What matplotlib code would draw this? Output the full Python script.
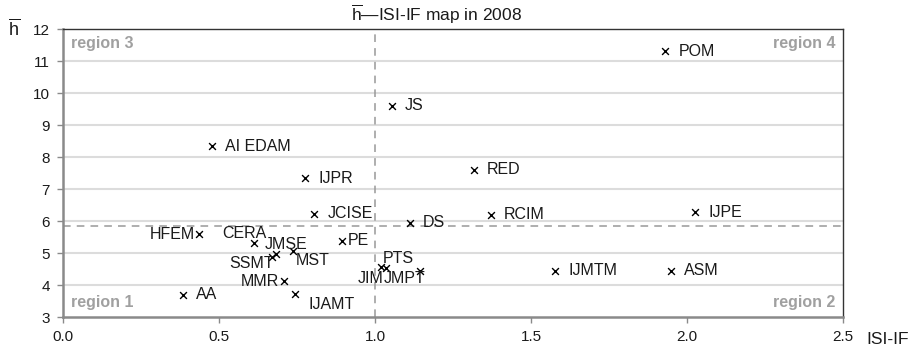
import matplotlib
matplotlib.use('Agg')
import matplotlib.pyplot as plt

plt.rcParams['font.family'] = ['Liberation Sans', 'DejaVu Sans']
plt.rcParams['mathtext.fontset'] = 'custom'
plt.rcParams['mathtext.rm'] = 'Liberation Sans'
plt.rcParams['mathtext.sf'] = 'Liberation Sans'

# journals: ISI impact factor vs mean h-index
journals = ['POM', 'JS', 'AI EDAM', 'IJPR', 'RED', 'JCISE', 'DS', 'RCIM', 'IJPE',
            'HFEM', 'CERA', 'JMSE', 'SSMT', 'MST', 'PE', 'MMR', 'IJAMT', 'AA',
            'PTS', 'JIM', 'JMPT', 'IJMTM', 'ASM']
isi_if = [1.93, 1.054, 0.478, 0.776, 1.317, 0.805, 1.112, 1.372, 2.026,
          0.436, 0.612, 0.683, 0.670, 0.737, 0.895, 0.707, 0.744, 0.385,
          1.019, 1.035, 1.144, 1.577, 1.949]
h_bar = [11.31, 9.6, 8.34, 7.34, 7.6, 6.23, 5.94, 6.2, 6.28,
         5.59, 5.31, 4.98, 4.88, 5.06, 5.38, 4.11, 3.73, 3.69,
         4.56, 4.52, 4.44, 4.44, 4.44]

if_split = 1.0
h_split = 5.85

# label placement (offset in points, horizontal alignment)
label_pos = {
    'HFEM': ((-3, 0), 'right'),
    'CERA': ((-7, 7), 'center'),
    'JMSE': ((7, 6.5), 'center'),
    'SSMT': ((1, -4.5), 'right'),
    'MST': ((2, -7), 'left'),
    'PE': ((4, 0), 'left'),
    'MMR': ((-3, 0), 'right'),
    'IJAMT': ((10, -7.5), 'left'),
    'PTS': ((1, 6.5), 'left'),
    'JIM': ((-1.5, -7.5), 'right'),
    'JMPT': ((-26, -5.5), 'left'),
}

fig = plt.figure(figsize=(9.18, 3.52), dpi=100)
ax = fig.add_axes([0.0686, 0.0994, 0.8497, 0.8182])

ax.set_xlim(0, 2.5)
ax.set_ylim(3, 12)
ax.set_xticks([0, 0.5, 1.0, 1.5, 2.0, 2.5])
ax.set_xticklabels(['0.0', '0.5', '1.0', '1.5', '2.0', '2.5'])
ax.set_yticks(range(3, 13))

for y in range(4, 12):
    ax.axhline(y, color='#dcdcdc', lw=1.5, zorder=0)

ax.axvline(if_split, color='#999999', lw=1.1, ls=(0, (5, 4)), zorder=1)
ax.axhline(h_split, color='#999999', lw=1.1, ls=(0, (5, 4)), zorder=1)

ax.scatter(isi_if, h_bar, marker='x', color='black', s=24, linewidths=1.0, zorder=3)

for name, x, y in zip(journals, isi_if, h_bar):
    off, ha = label_pos.get(name, ((9.5, 0), 'left'))
    ax.annotate(name, (x, y), xytext=off, textcoords='offset points',
                ha=ha, va='center', fontsize=11.5, color='#1a1a1a', zorder=4)

reg = dict(color='#a0a0a0', fontsize=11.5, fontweight='bold')
ax.text(0.01, 0.975, 'region 3', transform=ax.transAxes, ha='left', va='top', **reg)
ax.text(0.99, 0.975, 'region 4', transform=ax.transAxes, ha='right', va='top', **reg)
ax.text(0.01, 0.025, 'region 1', transform=ax.transAxes, ha='left', va='bottom', **reg)
ax.text(0.99, 0.025, 'region 2', transform=ax.transAxes, ha='right', va='bottom', **reg)

for s in ['left', 'bottom']:
    ax.spines[s].set_color('#8a8a8a')
    ax.spines[s].set_linewidth(1.8)
for s in ['top', 'right']:
    ax.spines[s].set_color('#333333')
    ax.spines[s].set_linewidth(1.0)

ax.tick_params(axis='both', colors='#8a8a8a', length=4.5, width=1.0,
               labelcolor='#1a1a1a', labelsize=11, pad=5)

fig.text(14 / 918, 1 - 29 / 352, r'$\overline{\mathrm{h}}$', ha='center', va='center',
         fontsize=13, color='#1a1a1a')
fig.text(866 / 918, 1 - 340 / 352, 'ISI-IF', ha='left', va='center',
         fontsize=12.5, color='#1a1a1a')
fig.text(437 / 918, 1 - 14 / 352, r'$\overline{\mathrm{h}}$—ISI-IF map in 2008',
         ha='center', va='center', fontsize=12.5, color='#1a1a1a')

fig.savefig('out.png', dpi=100, facecolor='white')
